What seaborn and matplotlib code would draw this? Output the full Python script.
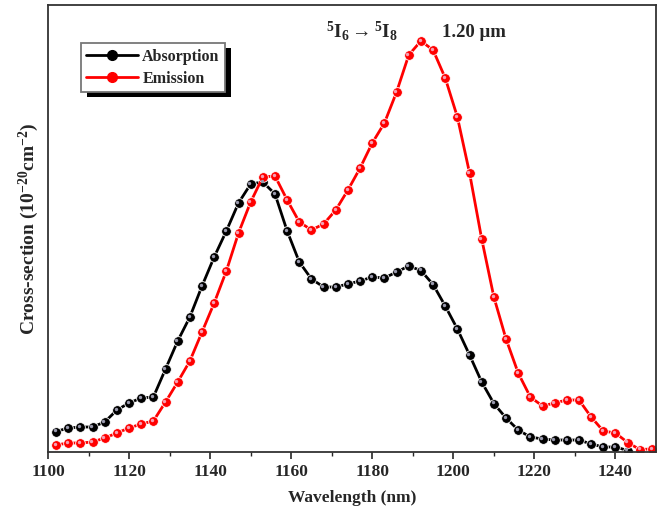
import numpy as np
import pandas as pd
import matplotlib
matplotlib.use("Agg")
import matplotlib.pyplot as plt
import matplotlib.transforms as mtransforms
from matplotlib.patches import Rectangle
from matplotlib.lines import Line2D
import seaborn as sns

# ---- data ----
abs_wavelength = [1102, 1105, 1108, 1111, 1114, 1117, 1120, 1123, 1126, 1129,
                  1132, 1135, 1138, 1141, 1144, 1147, 1150, 1153, 1156, 1159,
                  1162, 1165, 1168, 1171, 1174, 1177, 1180, 1183, 1186, 1189,
                  1192, 1195, 1198, 1201, 1204, 1207, 1210, 1213, 1216, 1219,
                  1222, 1225, 1228, 1231, 1234, 1237, 1240, 1243]
abs_values = [0.205, 0.24, 0.25, 0.25, 0.30, 0.42, 0.49, 0.54, 0.55, 0.83,
              1.11, 1.35, 1.66, 1.95, 2.21, 2.49, 2.68, 2.70, 2.58, 2.21,
              1.90, 1.73, 1.65, 1.65, 1.68, 1.71, 1.75, 1.74, 1.80, 1.86,
              1.815, 1.675, 1.46, 1.23, 0.97, 0.70, 0.485, 0.34, 0.22, 0.15,
              0.13, 0.12, 0.12, 0.12, 0.08, 0.05, 0.05, 0.015]

emi_wavelength = [1102, 1105, 1108, 1111, 1114, 1117, 1120, 1123, 1126, 1129,
                  1132, 1135, 1138, 1141, 1144, 1147, 1150, 1153, 1156, 1159,
                  1162, 1165, 1168, 1171, 1174, 1177, 1180, 1183, 1186, 1189,
                  1192, 1195, 1198, 1201, 1204, 1207, 1210, 1213, 1216, 1219,
                  1222, 1225, 1228, 1231, 1234, 1237, 1240, 1243, 1246, 1249]
emi_values = [0.07, 0.09, 0.09, 0.10, 0.14, 0.19, 0.24, 0.28, 0.31, 0.50,
              0.70, 0.91, 1.20, 1.49, 1.81, 2.19, 2.50, 2.75, 2.76, 2.52,
              2.30, 2.22, 2.28, 2.42, 2.62, 2.84, 3.09, 3.29, 3.60, 3.97,
              4.11, 4.02, 3.74, 3.35, 2.79, 2.13, 1.55, 1.13, 0.79, 0.55,
              0.46, 0.49, 0.52, 0.52, 0.35, 0.21, 0.19, 0.095, 0.025, 0.03]

series_names = ["Absorption", "Emission"]
series_colors = ["#000000", "#ff0000"]
highlight_colors = ["#9a9aae", "#f4a0b4"]
x_ticks = [1100, 1120, 1140, 1160, 1180, 1200, 1220, 1240]

df = pd.concat([
    pd.DataFrame({"Wavelength": abs_wavelength, "Cross": abs_values, "Series": series_names[0]}),
    pd.DataFrame({"Wavelength": emi_wavelength, "Cross": emi_values, "Series": series_names[1]}),
], ignore_index=True)

# ---- style ----
sns.set_style("ticks")
plt.rcParams["font.family"] = ["Liberation Serif", "DejaVu Serif"]
plt.rcParams["font.weight"] = "bold"
plt.rcParams["mathtext.fontset"] = "custom"
plt.rcParams["mathtext.rm"] = "Liberation Serif:bold"
plt.rcParams["mathtext.bf"] = "Liberation Serif:bold"
plt.rcParams["mathtext.it"] = "Liberation Serif:bold"

fig = plt.figure(figsize=(6.6, 5.13), dpi=100)
ax = fig.add_axes([48 / 660, 1 - 452 / 513, 608 / 660, 447 / 513])

palette = dict(zip(series_names, series_colors))
sns.lineplot(data=df, x="Wavelength", y="Cross", hue="Series", palette=palette,
             marker="o", markersize=7, markeredgewidth=0.6, linewidth=2.0,
             ax=ax, legend=False, sort=True)
# sphere-like highlights
hl_off = mtransforms.ScaledTranslation(-0.9 / 72, 0.9 / 72, fig.dpi_scale_trans)
for name, hc in zip(series_names, highlight_colors):
    sub = df[df["Series"] == name]
    n_before = len(ax.collections)
    sns.scatterplot(x=sub["Wavelength"], y=sub["Cross"], color=hc, s=6,
                    linewidth=0, ax=ax, legend=False, zorder=4)
    for coll in ax.collections[n_before:]:
        coll.set_offset_transform(ax.transData + hl_off)

ax.set_xlim(1100, 1250)
ax.set_ylim(0, 4.47)
ax.set_xticks(x_ticks)
ax.set_xticks(np.arange(1110, 1250, 20), minor=True)
ax.set_yticks([])
ax.tick_params(axis="x", which="major", direction="out", length=5, width=1.2,
               labelsize=12.5, pad=4)
ax.tick_params(axis="x", which="minor", direction="out", length=3, width=1.0)
for lab in ax.get_xticklabels():
    lab.set_fontweight("bold")
for sp in ax.spines.values():
    sp.set_visible(True)
    sp.set_linewidth(1.3)
    sp.set_color("#333333")

ax.set_xlabel("Wavelength (nm)", fontsize=12.5, fontweight="bold", labelpad=7)
ax.set_ylabel(r"Cross-section (10$^{-20}$cm$^{-2}$)", fontsize=14,
              fontweight="bold", labelpad=5)

# annotations
ax.text(0.457, 0.928, r"$^{5}$I$_{6}$$\rightarrow$$^{5}$I$_{8}$", transform=ax.transAxes,
        fontsize=14, fontweight="bold", va="baseline", ha="left")
ax.text(0.648, 0.928, "1.20 μm", transform=ax.transAxes,
        fontsize=13.5, fontweight="bold", va="baseline", ha="left")

# legend with solid black drop shadow
handles = [Line2D([0], [0], color=c, lw=2.0, marker="o", markersize=7,
                  markeredgecolor=c) for c in series_colors]
leg = ax.legend(handles, series_names, loc="upper left",
                bbox_to_anchor=(0.054, 0.914), borderaxespad=0,
                handlelength=3.2, handletextpad=0.3,
                labelspacing=0.35, borderpad=0.35, fancybox=False,
                frameon=True, prop={"weight": "bold", "size": 11.5})
leg.get_frame().set_edgecolor("#777777")
leg.get_frame().set_linewidth(1.3)
leg.get_frame().set_facecolor("white")
leg.get_frame().set_alpha(1)
leg.set_zorder(6)

fig.canvas.draw()
bb = leg.get_window_extent().transformed(ax.transAxes.inverted())
dx = 6 / 608
dy = 5 / 447
ax.add_patch(Rectangle((bb.x0 + dx, bb.y0 - dy), bb.width, bb.height,
                       transform=ax.transAxes, facecolor="black",
                       edgecolor="none", zorder=5, clip_on=False))

fig.savefig("out.png", dpi=100)
